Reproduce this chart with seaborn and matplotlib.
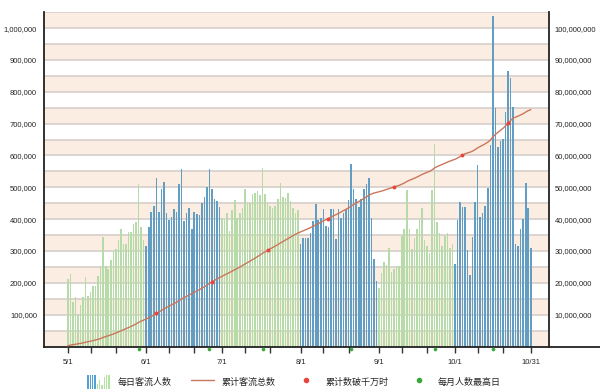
import numpy as np
import pandas as pd
import matplotlib
matplotlib.use("Agg")
import matplotlib.pyplot as plt
import seaborn as sns
from matplotlib.patches import Rectangle
from matplotlib.lines import Line2D
from matplotlib.legend_handler import HandlerBase

# daily visitors in thousands (5/1 - 10/31)
may = [213, 227, 140, 156, 99, 130, 156, 218, 159, 172, 190, 190, 222, 253, 343, 253,
       245, 273, 299, 307, 335, 368, 321, 321, 359, 359, 385, 391, 511, 375, 333]
jun = [316, 376, 422, 441, 530, 422, 494, 517, 418, 397, 408, 431, 423, 509, 557, 394,
       420, 434, 368, 422, 415, 413, 452, 470, 500, 559, 495, 462, 458, 437]
jul = [405, 397, 420, 363, 430, 459, 405, 420, 436, 496, 446, 451, 480, 483, 487, 477,
       562, 478, 450, 440, 434, 440, 463, 515, 468, 465, 482, 458, 435, 420, 430]
aug = [321, 342, 342, 342, 357, 394, 447, 397, 405, 431, 378, 375, 431, 433, 339, 431,
       405, 420, 431, 460, 572, 494, 462, 439, 462, 496, 509, 530, 403, 276, 205]
sep = [185, 232, 266, 256, 310, 234, 242, 252, 252, 347, 368, 492, 368, 305, 342, 368,
       400, 436, 336, 316, 295, 492, 637, 391, 357, 316, 347, 357, 310, 321]
oct_ = [258, 397, 455, 437, 437, 303, 225, 345, 454, 569, 408, 420, 442, 499, 633, 1039,
        750, 628, 646, 651, 737, 866, 842, 753, 321, 316, 370, 401, 515, 434, 310]

tick_labels = ["5/1", "6/1", "7/1", "8/1", "9/1", "10/1", "10/31"]
legend_labels = ["每日客流人数", "累计客流总数", "累计数破千万时", "每月人数最高日"]

dates = pd.date_range("2010-05-01", "2010-10-31")
df = pd.DataFrame({"date": dates,
                   "visitors": np.array(may + jun + jul + aug + sep + oct_) * 1000})
df["day"] = np.arange(len(df))
df["alt"] = df["date"].dt.month % 2
df["cum"] = df["visitors"].cumsum()

# days where the running total first passes each 10 million
milestones = [df[df["cum"] >= k * 10_000_000].iloc[0] for k in range(1, 8)]
ms = pd.DataFrame(milestones)
# busiest day of each month
peaks = df.loc[df.groupby(df["date"].dt.month)["visitors"].idxmax()].copy()
peaks["y"] = -9000

blue = "#52a0d4"
green = "#b3e3a0"
peach = "#fcede3"
gridc = "#d3ccc8"
linec = "#c9775c"

sns.set_style("white")
plt.rcParams["font.family"] = ["Liberation Sans", "DejaVu Sans"]
cjk = ["Noto Sans CJK SC", "DejaVu Sans"]

fig = plt.figure(figsize=(6, 3.92), dpi=100)
ax = fig.add_axes([0.0733, 0.116, 0.8417, 0.853])

for v in range(0, 1_050_000, 100_000):
    ax.axhspan(v, v + 50_000, color=peach, zorder=0, lw=0)
for v in range(50_000, 1_050_001, 50_000):
    ax.axhline(v, color=gridc, lw=1.1, zorder=0.5)

sns.barplot(data=df, x="day", y="visitors", hue="alt", palette={0: blue, 1: green},
            native_scale=True, dodge=False, width=0.62, errorbar=None,
            legend=False, linewidth=0, ax=ax, zorder=2)

sns.scatterplot(data=peaks, x="day", y="y", color="#3aa83a", s=7, linewidth=0,
                ax=ax, clip_on=False, zorder=5, legend=False)

ax2 = ax.twinx()
sns.lineplot(data=df, x="day", y="cum", color=linec, lw=1.0, ax=ax2)
sns.scatterplot(data=ms, x="day", y="cum", color="#e8453c", s=8, linewidth=0,
                ax=ax2, zorder=5, legend=False)

ax.set_xlim(-9.4, 190.2)
ax.set_ylim(0, 1_050_000)
ax2.set_ylim(0, 105_000_000)

major = df.index[(df["date"].dt.day == 1)].tolist() + [len(df) - 1]
minor = df.index[df["date"].dt.day.isin([10, 20])].tolist()
ax.set_xticks(major)
ax.set_xticklabels(tick_labels)
ax.set_xticks(minor, minor=True)
ax.tick_params(axis="x", which="both", length=4, width=1, color="#333333",
               labelsize=5.5, pad=5, direction="out", bottom=True)

yt = np.arange(100_000, 1_000_001, 100_000)
ax.set_yticks(yt)
ax.set_yticklabels([f"{v:,}" for v in yt])
ax.tick_params(axis="y", length=0, labelsize=5.5, pad=5)
ax2.set_yticks(yt * 100)
ax2.set_yticklabels([f"{v * 100:,}" for v in yt])
ax2.tick_params(axis="y", length=0, labelsize=5.5, pad=4)

ax.set_xlabel("")
ax.set_ylabel("")
ax2.set_xlabel("")
ax2.set_ylabel("")

for a in (ax, ax2):
    a.spines["top"].set_visible(False)
    for s in ("left", "right", "bottom"):
        a.spines[s].set_color("#222222")
        a.spines[s].set_linewidth(1.3)
ax.spines["right"].set_visible(False)
ax2.spines["left"].set_visible(False)
ax2.spines["bottom"].set_visible(False)

# bottom axis line runs on past the right axis
ax.plot([1, 1.1], [0, 0], transform=ax.transAxes, color="#222222", lw=1.3,
        clip_on=False)


class BarIcon(HandlerBase):
    def create_artists(self, legend, orig_handle, xdescent, ydescent,
                       width, height, fontsize, trans):
        fr = [1.0, 1.0, 1.0, 1.0, 0.35, 0.6, 0.3, 0.85, 1.0, 1.0]
        cols = [blue] * 4 + [green] * 6
        step = width / len(fr)
        return [Rectangle((-xdescent + i * step, -ydescent), step * 0.6, height * f,
                          facecolor=c, lw=0, transform=trans)
                for i, (f, c) in enumerate(zip(fr, cols))]


handles = [Rectangle((0, 0), 1, 1),
           Line2D([0, 1], [0, 1], color=linec, lw=1.0),
           Line2D([], [], marker="o", ls="", color="#e8453c", markersize=3),
           Line2D([], [], marker="o", ls="", color="#3aa83a", markersize=3)]
fig.legend(handles, legend_labels, handler_map={Rectangle: BarIcon()},
           loc="center", bbox_to_anchor=(0.49, 0.026), ncol=4, frameon=False,
           handlelength=2.6, handleheight=2.0, columnspacing=2.1,
           prop={"family": cjk, "size": 6.5})

fig.savefig("out.png", dpi=100)
